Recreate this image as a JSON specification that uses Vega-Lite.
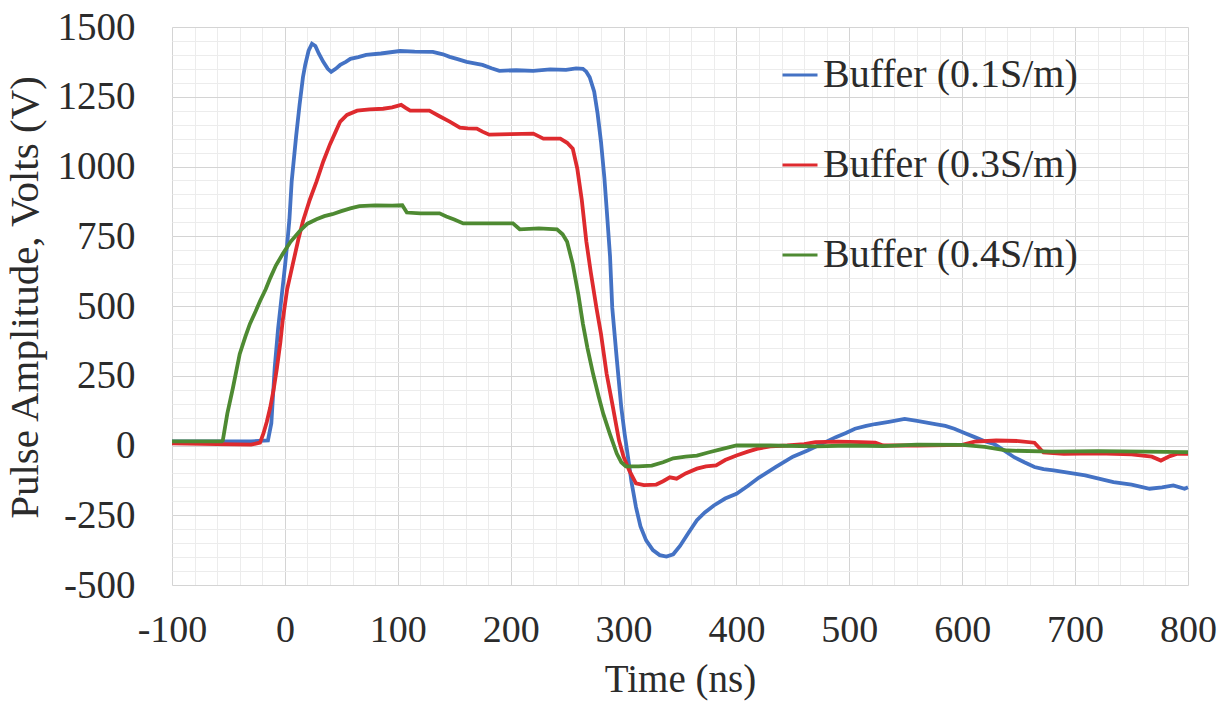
{
  "$schema": "https://vega.github.io/schema/vega-lite/v6.json",
  "width": 1016,
  "height": 558,
  "autosize": {"type": "none"},
  "padding": {"left": 172, "top": 27, "right": 35, "bottom": 117},
  "background": "white",
  "config": {
    "view": {"stroke": "#d6d6d6", "strokeWidth": 1},
    "font": "Liberation Serif",
    "axis": {"labelFont": "Liberation Serif", "titleFont": "Liberation Serif", "labelColor": "#2b2b2b", "titleColor": "#2b2b2b", "titleFontWeight": "normal", "labelFlush": false, "labelOverlap": false},
    "legend": {"labelFont": "Liberation Serif", "labelColor": "#2b2b2b"}
  },
  "datasets": {
    "pulse": [
      {"t": -100, "v": 15, "s": "Buffer (0.1S/m)"}, {"t": -60, "v": 15, "s": "Buffer (0.1S/m)"}, {"t": -30, "v": 15, "s": "Buffer (0.1S/m)"}, {"t": -15, "v": 18, "s": "Buffer (0.1S/m)"}, {"t": -12, "v": 80, "s": "Buffer (0.1S/m)"}, {"t": -9, "v": 280, "s": "Buffer (0.1S/m)"}, {"t": -6, "v": 420, "s": "Buffer (0.1S/m)"}, {"t": -3, "v": 530, "s": "Buffer (0.1S/m)"}, {"t": 0, "v": 640, "s": "Buffer (0.1S/m)"}, {"t": 2, "v": 720, "s": "Buffer (0.1S/m)"}, {"t": 4, "v": 810, "s": "Buffer (0.1S/m)"}, {"t": 6, "v": 946, "s": "Buffer (0.1S/m)"}, {"t": 10, "v": 1110, "s": "Buffer (0.1S/m)"}, {"t": 13, "v": 1221, "s": "Buffer (0.1S/m)"}, {"t": 16, "v": 1320, "s": "Buffer (0.1S/m)"}, {"t": 18, "v": 1364, "s": "Buffer (0.1S/m)"}, {"t": 21, "v": 1415, "s": "Buffer (0.1S/m)"}, {"t": 24, "v": 1440, "s": "Buffer (0.1S/m)"}, {"t": 27, "v": 1432, "s": "Buffer (0.1S/m)"}, {"t": 30, "v": 1405, "s": "Buffer (0.1S/m)"}, {"t": 34, "v": 1375, "s": "Buffer (0.1S/m)"}, {"t": 38, "v": 1350, "s": "Buffer (0.1S/m)"}, {"t": 41, "v": 1339, "s": "Buffer (0.1S/m)"}, {"t": 45, "v": 1350, "s": "Buffer (0.1S/m)"}, {"t": 49, "v": 1364, "s": "Buffer (0.1S/m)"}, {"t": 54, "v": 1375, "s": "Buffer (0.1S/m)"}, {"t": 58, "v": 1386, "s": "Buffer (0.1S/m)"}, {"t": 65, "v": 1392, "s": "Buffer (0.1S/m)"}, {"t": 72, "v": 1400, "s": "Buffer (0.1S/m)"}, {"t": 85, "v": 1405, "s": "Buffer (0.1S/m)"}, {"t": 102, "v": 1414, "s": "Buffer (0.1S/m)"}, {"t": 115, "v": 1412, "s": "Buffer (0.1S/m)"}, {"t": 131, "v": 1411, "s": "Buffer (0.1S/m)"}, {"t": 140, "v": 1402, "s": "Buffer (0.1S/m)"}, {"t": 146, "v": 1393, "s": "Buffer (0.1S/m)"}, {"t": 153, "v": 1385, "s": "Buffer (0.1S/m)"}, {"t": 161, "v": 1375, "s": "Buffer (0.1S/m)"}, {"t": 168, "v": 1370, "s": "Buffer (0.1S/m)"}, {"t": 175, "v": 1364, "s": "Buffer (0.1S/m)"}, {"t": 183, "v": 1352, "s": "Buffer (0.1S/m)"}, {"t": 190, "v": 1343, "s": "Buffer (0.1S/m)"}, {"t": 205, "v": 1345, "s": "Buffer (0.1S/m)"}, {"t": 220, "v": 1343, "s": "Buffer (0.1S/m)"}, {"t": 235, "v": 1348, "s": "Buffer (0.1S/m)"}, {"t": 249, "v": 1346, "s": "Buffer (0.1S/m)"}, {"t": 258, "v": 1352, "s": "Buffer (0.1S/m)"}, {"t": 264, "v": 1350, "s": "Buffer (0.1S/m)"}, {"t": 267, "v": 1340, "s": "Buffer (0.1S/m)"}, {"t": 270, "v": 1320, "s": "Buffer (0.1S/m)"}, {"t": 274, "v": 1268, "s": "Buffer (0.1S/m)"}, {"t": 277, "v": 1190, "s": "Buffer (0.1S/m)"}, {"t": 280, "v": 1089, "s": "Buffer (0.1S/m)"}, {"t": 283, "v": 960, "s": "Buffer (0.1S/m)"}, {"t": 285, "v": 850, "s": "Buffer (0.1S/m)"}, {"t": 288, "v": 680, "s": "Buffer (0.1S/m)"}, {"t": 290, "v": 493, "s": "Buffer (0.1S/m)"}, {"t": 294, "v": 310, "s": "Buffer (0.1S/m)"}, {"t": 298, "v": 136, "s": "Buffer (0.1S/m)"}, {"t": 301, "v": 40, "s": "Buffer (0.1S/m)"}, {"t": 304, "v": -43, "s": "Buffer (0.1S/m)"}, {"t": 307, "v": -130, "s": "Buffer (0.1S/m)"}, {"t": 311, "v": -221, "s": "Buffer (0.1S/m)"}, {"t": 315, "v": -290, "s": "Buffer (0.1S/m)"}, {"t": 320, "v": -340, "s": "Buffer (0.1S/m)"}, {"t": 326, "v": -375, "s": "Buffer (0.1S/m)"}, {"t": 332, "v": -393, "s": "Buffer (0.1S/m)"}, {"t": 338, "v": -398, "s": "Buffer (0.1S/m)"}, {"t": 344, "v": -390, "s": "Buffer (0.1S/m)"}, {"t": 350, "v": -360, "s": "Buffer (0.1S/m)"}, {"t": 358, "v": -310, "s": "Buffer (0.1S/m)"}, {"t": 365, "v": -268, "s": "Buffer (0.1S/m)"}, {"t": 372, "v": -240, "s": "Buffer (0.1S/m)"}, {"t": 380, "v": -215, "s": "Buffer (0.1S/m)"}, {"t": 390, "v": -190, "s": "Buffer (0.1S/m)"}, {"t": 400, "v": -173, "s": "Buffer (0.1S/m)"}, {"t": 410, "v": -145, "s": "Buffer (0.1S/m)"}, {"t": 420, "v": -115, "s": "Buffer (0.1S/m)"}, {"t": 435, "v": -77, "s": "Buffer (0.1S/m)"}, {"t": 450, "v": -40, "s": "Buffer (0.1S/m)"}, {"t": 463, "v": -18, "s": "Buffer (0.1S/m)"}, {"t": 475, "v": 5, "s": "Buffer (0.1S/m)"}, {"t": 488, "v": 30, "s": "Buffer (0.1S/m)"}, {"t": 497, "v": 45, "s": "Buffer (0.1S/m)"}, {"t": 505, "v": 60, "s": "Buffer (0.1S/m)"}, {"t": 515, "v": 70, "s": "Buffer (0.1S/m)"}, {"t": 523, "v": 77, "s": "Buffer (0.1S/m)"}, {"t": 535, "v": 85, "s": "Buffer (0.1S/m)"}, {"t": 549, "v": 95, "s": "Buffer (0.1S/m)"}, {"t": 560, "v": 88, "s": "Buffer (0.1S/m)"}, {"t": 576, "v": 77, "s": "Buffer (0.1S/m)"}, {"t": 585, "v": 70, "s": "Buffer (0.1S/m)"}, {"t": 593, "v": 60, "s": "Buffer (0.1S/m)"}, {"t": 602, "v": 45, "s": "Buffer (0.1S/m)"}, {"t": 611, "v": 30, "s": "Buffer (0.1S/m)"}, {"t": 620, "v": 15, "s": "Buffer (0.1S/m)"}, {"t": 628, "v": 6, "s": "Buffer (0.1S/m)"}, {"t": 636, "v": -15, "s": "Buffer (0.1S/m)"}, {"t": 646, "v": -42, "s": "Buffer (0.1S/m)"}, {"t": 655, "v": -60, "s": "Buffer (0.1S/m)"}, {"t": 664, "v": -77, "s": "Buffer (0.1S/m)"}, {"t": 672, "v": -85, "s": "Buffer (0.1S/m)"}, {"t": 681, "v": -89, "s": "Buffer (0.1S/m)"}, {"t": 695, "v": -98, "s": "Buffer (0.1S/m)"}, {"t": 709, "v": -107, "s": "Buffer (0.1S/m)"}, {"t": 720, "v": -118, "s": "Buffer (0.1S/m)"}, {"t": 734, "v": -131, "s": "Buffer (0.1S/m)"}, {"t": 750, "v": -140, "s": "Buffer (0.1S/m)"}, {"t": 766, "v": -155, "s": "Buffer (0.1S/m)"}, {"t": 777, "v": -150, "s": "Buffer (0.1S/m)"}, {"t": 787, "v": -143, "s": "Buffer (0.1S/m)"}, {"t": 797, "v": -155, "s": "Buffer (0.1S/m)"}, {"t": 800, "v": -150, "s": "Buffer (0.1S/m)"},

      {"t": -100, "v": 8, "s": "Buffer (0.3S/m)"}, {"t": -60, "v": 5, "s": "Buffer (0.3S/m)"}, {"t": -30, "v": 3, "s": "Buffer (0.3S/m)"}, {"t": -22, "v": 10, "s": "Buffer (0.3S/m)"}, {"t": -19, "v": 43, "s": "Buffer (0.3S/m)"}, {"t": -16, "v": 85, "s": "Buffer (0.3S/m)"}, {"t": -13, "v": 136, "s": "Buffer (0.3S/m)"}, {"t": -10, "v": 200, "s": "Buffer (0.3S/m)"}, {"t": -7, "v": 279, "s": "Buffer (0.3S/m)"}, {"t": -4, "v": 370, "s": "Buffer (0.3S/m)"}, {"t": -2, "v": 446, "s": "Buffer (0.3S/m)"}, {"t": 2, "v": 560, "s": "Buffer (0.3S/m)"}, {"t": 7, "v": 650, "s": "Buffer (0.3S/m)"}, {"t": 12, "v": 740, "s": "Buffer (0.3S/m)"}, {"t": 16, "v": 804, "s": "Buffer (0.3S/m)"}, {"t": 22, "v": 880, "s": "Buffer (0.3S/m)"}, {"t": 28, "v": 946, "s": "Buffer (0.3S/m)"}, {"t": 34, "v": 1018, "s": "Buffer (0.3S/m)"}, {"t": 40, "v": 1080, "s": "Buffer (0.3S/m)"}, {"t": 45, "v": 1125, "s": "Buffer (0.3S/m)"}, {"t": 49, "v": 1161, "s": "Buffer (0.3S/m)"}, {"t": 55, "v": 1185, "s": "Buffer (0.3S/m)"}, {"t": 64, "v": 1200, "s": "Buffer (0.3S/m)"}, {"t": 75, "v": 1205, "s": "Buffer (0.3S/m)"}, {"t": 87, "v": 1207, "s": "Buffer (0.3S/m)"}, {"t": 95, "v": 1212, "s": "Buffer (0.3S/m)"}, {"t": 103, "v": 1221, "s": "Buffer (0.3S/m)"}, {"t": 107, "v": 1210, "s": "Buffer (0.3S/m)"}, {"t": 111, "v": 1200, "s": "Buffer (0.3S/m)"}, {"t": 128, "v": 1200, "s": "Buffer (0.3S/m)"}, {"t": 137, "v": 1180, "s": "Buffer (0.3S/m)"}, {"t": 146, "v": 1161, "s": "Buffer (0.3S/m)"}, {"t": 155, "v": 1139, "s": "Buffer (0.3S/m)"}, {"t": 162, "v": 1137, "s": "Buffer (0.3S/m)"}, {"t": 170, "v": 1136, "s": "Buffer (0.3S/m)"}, {"t": 175, "v": 1125, "s": "Buffer (0.3S/m)"}, {"t": 181, "v": 1114, "s": "Buffer (0.3S/m)"}, {"t": 200, "v": 1116, "s": "Buffer (0.3S/m)"}, {"t": 220, "v": 1118, "s": "Buffer (0.3S/m)"}, {"t": 225, "v": 1108, "s": "Buffer (0.3S/m)"}, {"t": 229, "v": 1100, "s": "Buffer (0.3S/m)"}, {"t": 244, "v": 1100, "s": "Buffer (0.3S/m)"}, {"t": 250, "v": 1085, "s": "Buffer (0.3S/m)"}, {"t": 255, "v": 1064, "s": "Buffer (0.3S/m)"}, {"t": 259, "v": 993, "s": "Buffer (0.3S/m)"}, {"t": 263, "v": 880, "s": "Buffer (0.3S/m)"}, {"t": 267, "v": 732, "s": "Buffer (0.3S/m)"}, {"t": 271, "v": 620, "s": "Buffer (0.3S/m)"}, {"t": 276, "v": 493, "s": "Buffer (0.3S/m)"}, {"t": 280, "v": 400, "s": "Buffer (0.3S/m)"}, {"t": 285, "v": 257, "s": "Buffer (0.3S/m)"}, {"t": 290, "v": 150, "s": "Buffer (0.3S/m)"}, {"t": 296, "v": 18, "s": "Buffer (0.3S/m)"}, {"t": 300, "v": -40, "s": "Buffer (0.3S/m)"}, {"t": 305, "v": -89, "s": "Buffer (0.3S/m)"}, {"t": 311, "v": -136, "s": "Buffer (0.3S/m)"}, {"t": 318, "v": -142, "s": "Buffer (0.3S/m)"}, {"t": 329, "v": -140, "s": "Buffer (0.3S/m)"}, {"t": 335, "v": -128, "s": "Buffer (0.3S/m)"}, {"t": 341, "v": -114, "s": "Buffer (0.3S/m)"}, {"t": 347, "v": -119, "s": "Buffer (0.3S/m)"}, {"t": 355, "v": -100, "s": "Buffer (0.3S/m)"}, {"t": 365, "v": -83, "s": "Buffer (0.3S/m)"}, {"t": 373, "v": -75, "s": "Buffer (0.3S/m)"}, {"t": 382, "v": -71, "s": "Buffer (0.3S/m)"}, {"t": 390, "v": -52, "s": "Buffer (0.3S/m)"}, {"t": 400, "v": -36, "s": "Buffer (0.3S/m)"}, {"t": 410, "v": -22, "s": "Buffer (0.3S/m)"}, {"t": 418, "v": -12, "s": "Buffer (0.3S/m)"}, {"t": 430, "v": -3, "s": "Buffer (0.3S/m)"}, {"t": 445, "v": 0, "s": "Buffer (0.3S/m)"}, {"t": 460, "v": 5, "s": "Buffer (0.3S/m)"}, {"t": 470, "v": 12, "s": "Buffer (0.3S/m)"}, {"t": 490, "v": 14, "s": "Buffer (0.3S/m)"}, {"t": 510, "v": 12, "s": "Buffer (0.3S/m)"}, {"t": 523, "v": 10, "s": "Buffer (0.3S/m)"}, {"t": 530, "v": 0, "s": "Buffer (0.3S/m)"}, {"t": 560, "v": 0, "s": "Buffer (0.3S/m)"}, {"t": 600, "v": 2, "s": "Buffer (0.3S/m)"}, {"t": 611, "v": 14, "s": "Buffer (0.3S/m)"}, {"t": 630, "v": 18, "s": "Buffer (0.3S/m)"}, {"t": 650, "v": 16, "s": "Buffer (0.3S/m)"}, {"t": 664, "v": 10, "s": "Buffer (0.3S/m)"}, {"t": 672, "v": -25, "s": "Buffer (0.3S/m)"}, {"t": 690, "v": -30, "s": "Buffer (0.3S/m)"}, {"t": 720, "v": -28, "s": "Buffer (0.3S/m)"}, {"t": 750, "v": -32, "s": "Buffer (0.3S/m)"}, {"t": 768, "v": -40, "s": "Buffer (0.3S/m)"}, {"t": 776, "v": -54, "s": "Buffer (0.3S/m)"}, {"t": 784, "v": -38, "s": "Buffer (0.3S/m)"}, {"t": 790, "v": -30, "s": "Buffer (0.3S/m)"}, {"t": 800, "v": -30, "s": "Buffer (0.3S/m)"},

      {"t": -100, "v": 15, "s": "Buffer (0.4S/m)"}, {"t": -70, "v": 15, "s": "Buffer (0.4S/m)"}, {"t": -56, "v": 15, "s": "Buffer (0.4S/m)"}, {"t": -55, "v": 18, "s": "Buffer (0.4S/m)"}, {"t": -51, "v": 114, "s": "Buffer (0.4S/m)"}, {"t": -46, "v": 207, "s": "Buffer (0.4S/m)"}, {"t": -40, "v": 328, "s": "Buffer (0.4S/m)"}, {"t": -35, "v": 390, "s": "Buffer (0.4S/m)"}, {"t": -31, "v": 436, "s": "Buffer (0.4S/m)"}, {"t": -26, "v": 480, "s": "Buffer (0.4S/m)"}, {"t": -22, "v": 518, "s": "Buffer (0.4S/m)"}, {"t": -17, "v": 560, "s": "Buffer (0.4S/m)"}, {"t": -13, "v": 600, "s": "Buffer (0.4S/m)"}, {"t": -8, "v": 645, "s": "Buffer (0.4S/m)"}, {"t": -2, "v": 686, "s": "Buffer (0.4S/m)"}, {"t": 5, "v": 730, "s": "Buffer (0.4S/m)"}, {"t": 13, "v": 768, "s": "Buffer (0.4S/m)"}, {"t": 20, "v": 795, "s": "Buffer (0.4S/m)"}, {"t": 28, "v": 811, "s": "Buffer (0.4S/m)"}, {"t": 35, "v": 822, "s": "Buffer (0.4S/m)"}, {"t": 42, "v": 829, "s": "Buffer (0.4S/m)"}, {"t": 50, "v": 840, "s": "Buffer (0.4S/m)"}, {"t": 58, "v": 850, "s": "Buffer (0.4S/m)"}, {"t": 66, "v": 858, "s": "Buffer (0.4S/m)"}, {"t": 80, "v": 861, "s": "Buffer (0.4S/m)"}, {"t": 95, "v": 860, "s": "Buffer (0.4S/m)"}, {"t": 104, "v": 861, "s": "Buffer (0.4S/m)"}, {"t": 108, "v": 835, "s": "Buffer (0.4S/m)"}, {"t": 120, "v": 832, "s": "Buffer (0.4S/m)"}, {"t": 137, "v": 832, "s": "Buffer (0.4S/m)"}, {"t": 143, "v": 821, "s": "Buffer (0.4S/m)"}, {"t": 150, "v": 810, "s": "Buffer (0.4S/m)"}, {"t": 158, "v": 796, "s": "Buffer (0.4S/m)"}, {"t": 180, "v": 796, "s": "Buffer (0.4S/m)"}, {"t": 202, "v": 796, "s": "Buffer (0.4S/m)"}, {"t": 208, "v": 775, "s": "Buffer (0.4S/m)"}, {"t": 225, "v": 778, "s": "Buffer (0.4S/m)"}, {"t": 241, "v": 775, "s": "Buffer (0.4S/m)"}, {"t": 246, "v": 757, "s": "Buffer (0.4S/m)"}, {"t": 250, "v": 730, "s": "Buffer (0.4S/m)"}, {"t": 255, "v": 650, "s": "Buffer (0.4S/m)"}, {"t": 260, "v": 540, "s": "Buffer (0.4S/m)"}, {"t": 264, "v": 436, "s": "Buffer (0.4S/m)"}, {"t": 268, "v": 350, "s": "Buffer (0.4S/m)"}, {"t": 273, "v": 257, "s": "Buffer (0.4S/m)"}, {"t": 278, "v": 175, "s": "Buffer (0.4S/m)"}, {"t": 282, "v": 114, "s": "Buffer (0.4S/m)"}, {"t": 288, "v": 40, "s": "Buffer (0.4S/m)"}, {"t": 294, "v": -29, "s": "Buffer (0.4S/m)"}, {"t": 298, "v": -60, "s": "Buffer (0.4S/m)"}, {"t": 302, "v": -75, "s": "Buffer (0.4S/m)"}, {"t": 313, "v": -75, "s": "Buffer (0.4S/m)"}, {"t": 325, "v": -72, "s": "Buffer (0.4S/m)"}, {"t": 335, "v": -60, "s": "Buffer (0.4S/m)"}, {"t": 344, "v": -46, "s": "Buffer (0.4S/m)"}, {"t": 355, "v": -40, "s": "Buffer (0.4S/m)"}, {"t": 365, "v": -36, "s": "Buffer (0.4S/m)"}, {"t": 375, "v": -25, "s": "Buffer (0.4S/m)"}, {"t": 385, "v": -15, "s": "Buffer (0.4S/m)"}, {"t": 400, "v": 0, "s": "Buffer (0.4S/m)"}, {"t": 430, "v": 0, "s": "Buffer (0.4S/m)"}, {"t": 470, "v": -3, "s": "Buffer (0.4S/m)"}, {"t": 500, "v": 0, "s": "Buffer (0.4S/m)"}, {"t": 530, "v": -2, "s": "Buffer (0.4S/m)"}, {"t": 560, "v": 3, "s": "Buffer (0.4S/m)"}, {"t": 600, "v": 2, "s": "Buffer (0.4S/m)"}, {"t": 620, "v": -5, "s": "Buffer (0.4S/m)"}, {"t": 640, "v": -18, "s": "Buffer (0.4S/m)"}, {"t": 680, "v": -22, "s": "Buffer (0.4S/m)"}, {"t": 720, "v": -20, "s": "Buffer (0.4S/m)"}, {"t": 760, "v": -22, "s": "Buffer (0.4S/m)"}, {"t": 800, "v": -24, "s": "Buffer (0.4S/m)"}
    ]
  },
  "data": {"name": "pulse"},
  "resolve": {"axis": {"x": "independent", "y": "independent"}},
  "layer": [
    {
      "mark": {"type": "line", "opacity": 0},
      "encoding": {
        "x": {"field": "t", "type": "quantitative", "scale": {"domain": [-100, 800], "nice": false, "zero": false},
          "axis": {"orient": "bottom", "values": [-100,-80,-60,-40,-20,0,20,40,60,80,100,120,140,160,180,200,220,240,260,280,300,320,340,360,380,400,420,440,460,480,500,520,540,560,580,600,620,640,660,680,700,720,740,760,780,800],
            "grid": true, "gridColor": "#ececec", "gridWidth": 1, "labels": false, "ticks": false, "domain": false, "title": null}},
        "y": {"field": "v", "type": "quantitative", "scale": {"domain": [-500, 1500], "nice": false, "zero": false},
          "axis": {"orient": "left", "values": [-500,-450,-400,-350,-300,-250,-200,-150,-100,-50,0,50,100,150,200,250,300,350,400,450,500,550,600,650,700,750,800,850,900,950,1000,1050,1100,1150,1200,1250,1300,1350,1400,1450,1500],
            "grid": true, "gridColor": "#ececec", "gridWidth": 1, "labels": false, "ticks": false, "domain": false, "title": null}},
        "detail": {"field": "s"}
      }
    },
    {
      "mark": {"type": "line", "strokeWidth": 3.8, "interpolate": "linear"},
      "encoding": {
        "x": {"field": "t", "type": "quantitative", "scale": {"domain": [-100, 800], "nice": false, "zero": false},
          "axis": {"orient": "bottom", "values": [-100,0,100,200,300,400,500,600,700,800], "grid": true, "gridColor": "#d4d4d4", "gridWidth": 1,
            "ticks": false, "domain": false, "labelFontSize": 38, "labelPadding": 26, "labelExpr": "'' + datum.value",
            "title": "Time (ns)", "titleFontSize": 39, "titleY": 94, "titleBaseline": "middle"}},
        "y": {"field": "v", "type": "quantitative", "scale": {"domain": [-500, 1500], "nice": false, "zero": false},
          "axis": {"orient": "left", "values": [-500,-250,0,250,500,750,1000,1250,1500], "grid": true, "gridColor": "#d4d4d4", "gridWidth": 1,
            "ticks": false, "domain": false, "labelFontSize": 39, "labelPadding": 37, "labelExpr": "'' + datum.value",
            "title": "Pulse Amplitude, Volts (V)", "titleFontSize": 41, "titleX": -147, "titleY": 270, "titleAngle": -90, "titleAlign": "center", "titleBaseline": "middle"}},
        "color": {"field": "s", "type": "nominal",
          "scale": {"domain": ["Buffer (0.1S/m)", "Buffer (0.3S/m)", "Buffer (0.4S/m)"], "range": ["#4472C4", "#DE2A2E", "#4E8A32"]},
          "legend": {"orient": "none", "legendX": 608, "legendY": 28, "title": null, "symbolType": "stroke", "symbolSize": 1225, "symbolStrokeWidth": 3,
            "labelFontSize": 40, "labelOffset": 3, "rowPadding": 50, "labelLimit": 0, "direction": "vertical"}}
      }
    }
  ]
}
